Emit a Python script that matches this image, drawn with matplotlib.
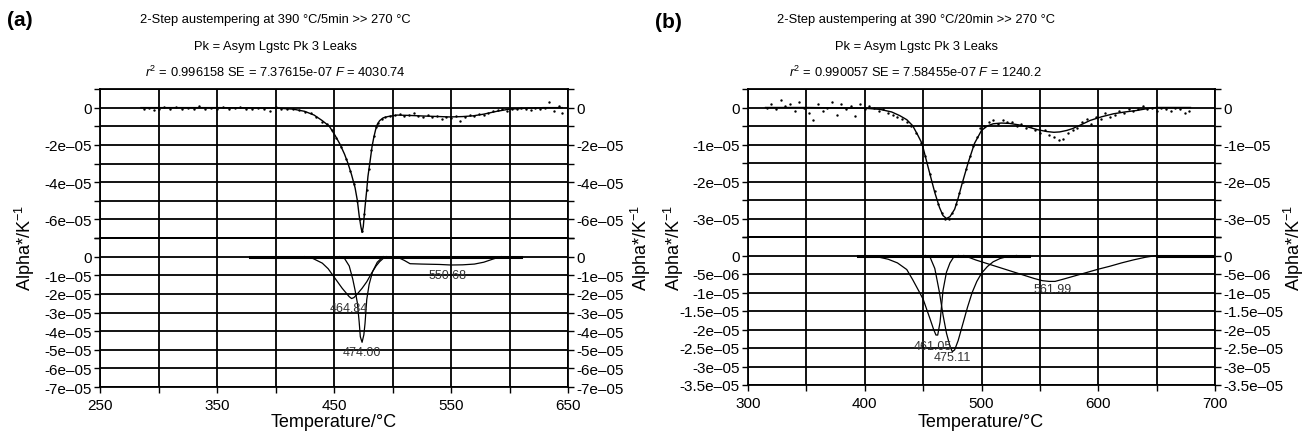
##
## === DEPENDENCIES
##

import matplotlib

matplotlib.use("Agg")
import matplotlib.pyplot as plt
import numpy

##
## === DATA  (values in units of 1e-5 per K, temperatures in deg C)
##

SCALE = 1e-5

# panel (a): measured points
a_data_t = [288, 292, 296, 300, 305, 310, 315, 320, 325, 330, 335, 340, 345, 350, 355, 360, 365, 370, 375, 380,
            385, 390, 395, 400, 405, 410, 415, 420, 425, 430, 435, 440, 444, 448, 452, 456, 460, 464, 467, 470,
            472, 474, 476, 478, 480, 482, 484, 486, 488, 491, 494, 498, 502, 506, 510, 514, 518, 522, 526, 530,
            534, 538, 542, 546, 550, 554, 558, 562, 566, 570, 574, 578, 582, 586, 590, 594, 598, 602, 606, 610,
            614, 618, 622, 626, 630, 634, 638, 642, 645]
a_data_v = [-0.1, 0.0, -0.15, -0.05, 0.05, -0.1, 0.05, -0.05, 0.0, -0.1, 0.1, -0.05, 0.0, -0.1, 0.05, -0.05, 0.0,
            0.05, -0.05, -0.1, 0.0, -0.05, -0.2, 0.05, -0.05, -0.1, -0.1, -0.15, -0.25, -0.3, -0.5, -0.75, -0.9,
            -1.2, -1.65, -2.1, -2.75, -3.4, -4.1, -5.0, -6.0, -6.6, -5.7, -4.4, -3.3, -2.3, -1.55, -1.05, -0.8,
            -0.6, -0.5, -0.45, -0.4, -0.35, -0.45, -0.4, -0.3, -0.45, -0.5, -0.4, -0.5, -0.45, -0.6, -0.5, -0.55,
            -0.45, -0.7, -0.5, -0.4, -0.45, -0.35, -0.4, -0.3, -0.2, -0.15, -0.1, -0.2, -0.05, -0.1, 0.0, -0.05,
            -0.15, 0.0, -0.05, 0.0, 0.3, -0.2, 0.1, -0.3]

# panel (a): fitted curve
a_fit_t = [285, 300, 350, 400, 415, 425, 433, 440, 446, 451, 455, 459, 462, 465, 468, 470, 471.5, 473, 474, 475,
           476.5, 478, 479, 481, 482.5, 484, 485.5, 487, 489, 492, 496, 504, 515, 526, 540, 549, 560, 569, 578,
           589, 600, 615, 629, 645]
a_fit_v = [0, 0, 0, -0.02, -0.08, -0.2, -0.4, -0.7, -1.0, -1.5, -1.95, -2.5, -3.0, -3.6, -4.3, -5.0, -5.8, -6.4,
           -6.7, -6.4, -5.35, -4.4, -3.7, -2.8, -2.1, -1.6, -1.2, -0.9, -0.7, -0.55, -0.48, -0.4, -0.42, -0.45,
           -0.48, -0.5, -0.48, -0.44, -0.35, -0.2, -0.08, -0.03, 0, 0]

# panel (a): fitted peak components
a_pk1_t = [425, 432, 440, 445, 449, 453, 457, 461, 463, 465, 467, 470, 474, 478, 482, 486, 489, 492, 495]
a_pk1_v = [0, -0.1, -0.35, -0.65, -1.0, -1.35, -1.7, -2.0, -2.15, -2.25, -2.2, -2.0, -1.7, -1.35, -0.9, -0.5,
           -0.27, -0.1, 0]
a_pk2_t = [455, 459, 463, 466, 468, 470, 471.5, 472.5, 474, 475.5, 476.5, 478, 480, 483, 487, 492]
a_pk2_v = [0, -0.1, -0.5, -1.2, -1.8, -2.5, -3.5, -4.3, -4.6, -4.2, -3.6, -2.3, -1.5, -0.8, -0.3, 0]
a_pk3_t = [500, 505, 510, 515, 525, 540, 550, 560, 570, 578, 585, 590, 593]
a_pk3_v = [0, -0.05, -0.2, -0.38, -0.4, -0.42, -0.45, -0.44, -0.4, -0.3, -0.15, -0.05, 0]
a_base_t = [378, 610]
a_peak_labels = ["464.84", "474.00", "550.68"]
a_label_t = [463, 474, 547]
a_label_v = [-2.75, -5.1, -0.97]

# panel (b): measured points
b_data_t = [316, 320, 324, 328, 332, 336, 340, 344, 348, 352, 356, 360, 364, 368, 372, 376, 380, 384, 388, 392,
            396, 400, 404, 408, 412, 416, 420, 424, 428, 432, 436, 440, 444, 448, 452, 456, 460, 463, 466, 469,
            472, 475, 478, 481, 484, 487, 490, 493, 496, 499, 502, 506, 510, 514, 518, 522, 526, 530, 534, 538,
            542, 546, 550, 554, 558, 562, 566, 570, 574, 578, 582, 586, 590, 594, 598, 602, 606, 610, 614, 618,
            622, 626, 630, 634, 638, 642, 646, 650, 654, 658, 662, 666, 670, 674, 678]
b_data_v = [0.0, 0.1, -0.05, 0.2, 0.05, 0.1, -0.1, 0.15, 0.0, -0.15, -0.35, 0.1, -0.1, 0.0, 0.15, -0.2, 0.1,
            -0.05, 0.05, -0.22, 0.1, -0.05, 0.05, 0.0, -0.1, -0.05, -0.15, -0.2, -0.25, -0.3, -0.4, -0.5, -0.7,
            -0.95, -1.3, -1.8, -2.25, -2.6, -2.85, -3.0, -3.0, -2.85, -2.6, -2.3, -2.0, -1.65, -1.3, -1.05, -0.8,
            -0.55, -0.5, -0.4, -0.35, -0.45, -0.35, -0.4, -0.38, -0.5, -0.45, -0.55, -0.5, -0.6, -0.7, -0.6,
            -0.75, -0.8, -0.88, -0.84, -0.7, -0.6, -0.55, -0.4, -0.3, -0.45, -0.25, -0.3, -0.15, -0.25, -0.2,
            -0.1, -0.15, -0.05, -0.1, -0.05, 0.05, -0.05, 0.0, -0.1, 0.0, -0.05, -0.1, 0.0, -0.05, -0.15, -0.1]

# panel (b): fitted curve
b_fit_t = [315, 350, 400, 413, 423, 430, 436, 441, 445, 449, 454, 460, 464, 467, 470, 473, 477, 480, 483, 488.5,
           494, 500, 505, 510, 517, 524, 532, 539, 548, 556, 562, 567, 573, 578, 585, 593, 603, 613, 623, 633,
           642, 650, 679]
b_fit_v = [0, 0, -0.02, -0.05, -0.12, -0.22, -0.33, -0.49, -0.72, -0.97, -1.58, -2.3, -2.7, -2.92, -3.0, -2.95,
           -2.75, -2.45, -2.1, -1.5, -0.97, -0.62, -0.5, -0.44, -0.42, -0.43, -0.47, -0.52, -0.6, -0.65, -0.67,
           -0.66, -0.62, -0.57, -0.47, -0.35, -0.25, -0.17, -0.12, -0.08, -0.03, 0, 0]

# panel (b): fitted peak components
b_pk1_t = [400, 410, 420, 428, 436, 441, 447, 450, 453, 456, 459, 461, 462.5, 464.5, 467, 470, 473, 476, 480]
b_pk1_v = [0, -0.03, -0.1, -0.2, -0.38, -0.65, -1.0, -1.18, -1.45, -1.72, -2.0, -2.15, -2.15, -1.8, -0.95,
           -0.45, -0.2, -0.05, 0]
b_pk2_t = [452, 456, 460, 464, 467, 470, 473, 475, 477, 480, 484, 488, 492, 496, 500, 505, 510, 516, 522, 530]
b_pk2_v = [0, -0.05, -0.35, -1.0, -1.6, -2.1, -2.45, -2.6, -2.55, -2.3, -1.85, -1.4, -1.0, -0.7, -0.48, -0.3,
           -0.17, -0.08, -0.03, 0]
b_pk3_t = [485, 495, 505, 515, 525, 535, 545, 552, 558, 563, 570, 580, 590, 600, 610, 620, 630, 640, 650]
b_pk3_v = [0, -0.12, -0.22, -0.32, -0.42, -0.52, -0.62, -0.68, -0.7, -0.7, -0.64, -0.55, -0.46, -0.37, -0.29,
           -0.2, -0.12, -0.05, 0]
b_base_segments = [[394, 541], [650, 700]]
b_peak_labels = ["461.05", "475.11", "561.99"]
b_label_t = [458.5, 475, 561]
b_label_v = [-2.45, -2.75, -0.91]

# axis settings
a_xticks = [250, 350, 450, 550, 650]
a_xgrid = [300, 400, 500, 600]
a_ylim = (-7, 1)
a_upper_ticks = [0, -2, -4, -6]
a_upper_labels = ["0", "-2e\u201305", "-4e\u201305", "-6e\u201305"]
a_lower_ticks = [0, -1, -2, -3, -4, -5, -6, -7]
a_lower_labels = ["0", "-1e\u201305", "-2e\u201305", "-3e\u201305", "-4e\u201305", "-5e\u201305", "-6e\u201305",
                  "-7e\u201305"]
a_ygrid = [1, 0, -1, -2, -3, -4, -5, -6, -7]

b_xticks = [300, 400, 500, 600, 700]
b_xgrid = [350, 450, 550, 650]
b_ylim = (-3.5, 0.5)
b_upper_ticks = [0, -1, -2, -3]
b_upper_labels = ["0", "-1e\u201305", "-2e\u201305", "-3e\u201305"]
b_lower_ticks = [0, -0.5, -1, -1.5, -2, -2.5, -3, -3.5]
b_lower_labels = ["0", "-5e\u201306", "-1e\u201305", "-1.5e\u201305", "-2e\u201305", "-2.5e\u201305",
                  "-3e\u201305", "-3.5e\u201305"]
b_ygrid = [0.5, 0, -0.5, -1, -1.5, -2, -2.5, -3, -3.5]

titles_a = ["2-Step austempering at 390 \u00b0C/5min >> 270 \u00b0C",
            "Pk = Asym Lgstc Pk 3 Leaks",
            r"$r^2$ = 0.996158 SE = 7.37615e-07 $F$ = 4030.74"]
titles_b = ["2-Step austempering at 390 \u00b0C/20min >> 270 \u00b0C",
            "Pk = Asym Lgstc Pk 3 Leaks",
            r"$r^2$ = 0.990057 SE = 7.58455e-07 $F$ = 1240.2"]

##
## === STYLE
##

plt.rcParams["font.family"] = ["Liberation Sans", "DejaVu Sans"]
plt.rcParams["mathtext.fontset"] = "custom"
plt.rcParams["mathtext.rm"] = "Liberation Sans"
plt.rcParams["mathtext.it"] = "Liberation Sans:italic"

FIG_W, FIG_H = 1304, 435
GRID_LW = 1.3


def _px_to_fig(left, top, right, bottom):
    return [left / FIG_W, 1 - bottom / FIG_H, (right - left) / FIG_W, (bottom - top) / FIG_H]


def _style_axes(ax, xticks, xgrid, ylim, yticks, ylabels, ygrid, show_x):
    ax.set_xlim(xticks[0], xticks[-1])
    ax.set_ylim(ylim[0] * SCALE, ylim[1] * SCALE)
    ax.set_xticks(xticks)
    ax.set_xticks(xgrid, minor=True)
    ax.set_yticks(numpy.array(yticks) * SCALE)
    ax.set_yticklabels(ylabels)
    ax.set_yticks(numpy.array(ygrid) * SCALE, minor=True)
    ax.grid(which="both", color="black", linewidth=GRID_LW)
    ax.tick_params(which="both", direction="out", length=4, width=1, left=True, right=True,
                   labelleft=True, labelright=True, labelsize=11, pad=2)
    ax.tick_params(axis="x", which="both", top=False, bottom=show_x, labelbottom=show_x, pad=4)
    for spine in ax.spines.values():
        spine.set_linewidth(GRID_LW)


def _draw_panel(fig, box, data_t, data_v, fit_t, fit_v, peaks, base_segments, labels,
                xticks, xgrid, ylim, up_ticks, up_labels, lo_ticks, lo_labels, ygrid):
    left, top, right, bottom = box
    mid = (top + bottom) / 2
    ax_up = fig.add_axes(_px_to_fig(left, top, right, mid))
    ax_lo = fig.add_axes(_px_to_fig(left, mid, right, bottom))

    ax_up.plot(fit_t, numpy.array(fit_v) * SCALE, color="black", linewidth=1.0)
    ax_up.scatter(data_t, numpy.array(data_v) * SCALE, s=3, color="black", linewidths=0, zorder=3)

    for seg in base_segments:
        ax_lo.plot(seg, [0, 0], color="black", linewidth=2.2, zorder=3)
    for pk_t, pk_v in peaks:
        ax_lo.plot(pk_t, numpy.array(pk_v) * SCALE, color="black", linewidth=0.9, zorder=3)
    for text, lt, lv in zip(*labels):
        ax_lo.text(lt, lv * SCALE, text, ha="center", va="center", fontsize=9, color="#333333", zorder=4)

    _style_axes(ax_up, xticks, xgrid, ylim, up_ticks, up_labels, ygrid, show_x=False)
    _style_axes(ax_lo, xticks, xgrid, ylim, lo_ticks, lo_labels, ygrid, show_x=True)


##
## === MAIN
##


def main() -> None:
    fig = plt.figure(figsize=(FIG_W / 100, FIG_H / 100), dpi=100)

    _draw_panel(fig, (100, 90, 568, 388), a_data_t, a_data_v, a_fit_t, a_fit_v,
                [(a_pk1_t, a_pk1_v), (a_pk2_t, a_pk2_v), (a_pk3_t, a_pk3_v)],
                [a_base_t], (a_peak_labels, a_label_t, a_label_v),
                a_xticks, a_xgrid, a_ylim, a_upper_ticks, a_upper_labels,
                a_lower_ticks, a_lower_labels, a_ygrid)
    _draw_panel(fig, (748, 90, 1215, 386), b_data_t, b_data_v, b_fit_t, b_fit_v,
                [(b_pk1_t, b_pk1_v), (b_pk2_t, b_pk2_v), (b_pk3_t, b_pk3_v)],
                b_base_segments, (b_peak_labels, b_label_t, b_label_v),
                b_xticks, b_xgrid, b_ylim, b_upper_ticks, b_upper_labels,
                b_lower_ticks, b_lower_labels, b_ygrid)

    # titles
    for cx, lines in [(275, titles_a), (916, titles_b)]:
        for cy, line in zip([20, 47, 72], lines):
            fig.text(cx / FIG_W, 1 - cy / FIG_H, line, ha="center", va="center", fontsize=9.3)

    fig.text(7 / FIG_W, 1 - 20 / FIG_H, "(a)", ha="left", va="center", fontsize=15, fontweight="bold")
    fig.text(655 / FIG_W, 1 - 22 / FIG_H, "(b)", ha="left", va="center", fontsize=15, fontweight="bold")

    # axis labels
    ylabel = "Alpha*/K$^{-1}$"
    for cx in [25, 641, 674, 1294]:
        fig.text(cx / FIG_W, 1 - 248 / FIG_H, ylabel, ha="center", va="center", rotation=90, fontsize=13)
    for cx in [334, 981]:
        fig.text(cx / FIG_W, 1 - 423 / FIG_H, "Temperature/\u00b0C", ha="center", va="center", fontsize=13)

    fig_name = "out.png"
    fig.savefig(fig_name, dpi=100)
    print(f"\t> saved: {fig_name}")


if __name__ == "__main__":
    main()
